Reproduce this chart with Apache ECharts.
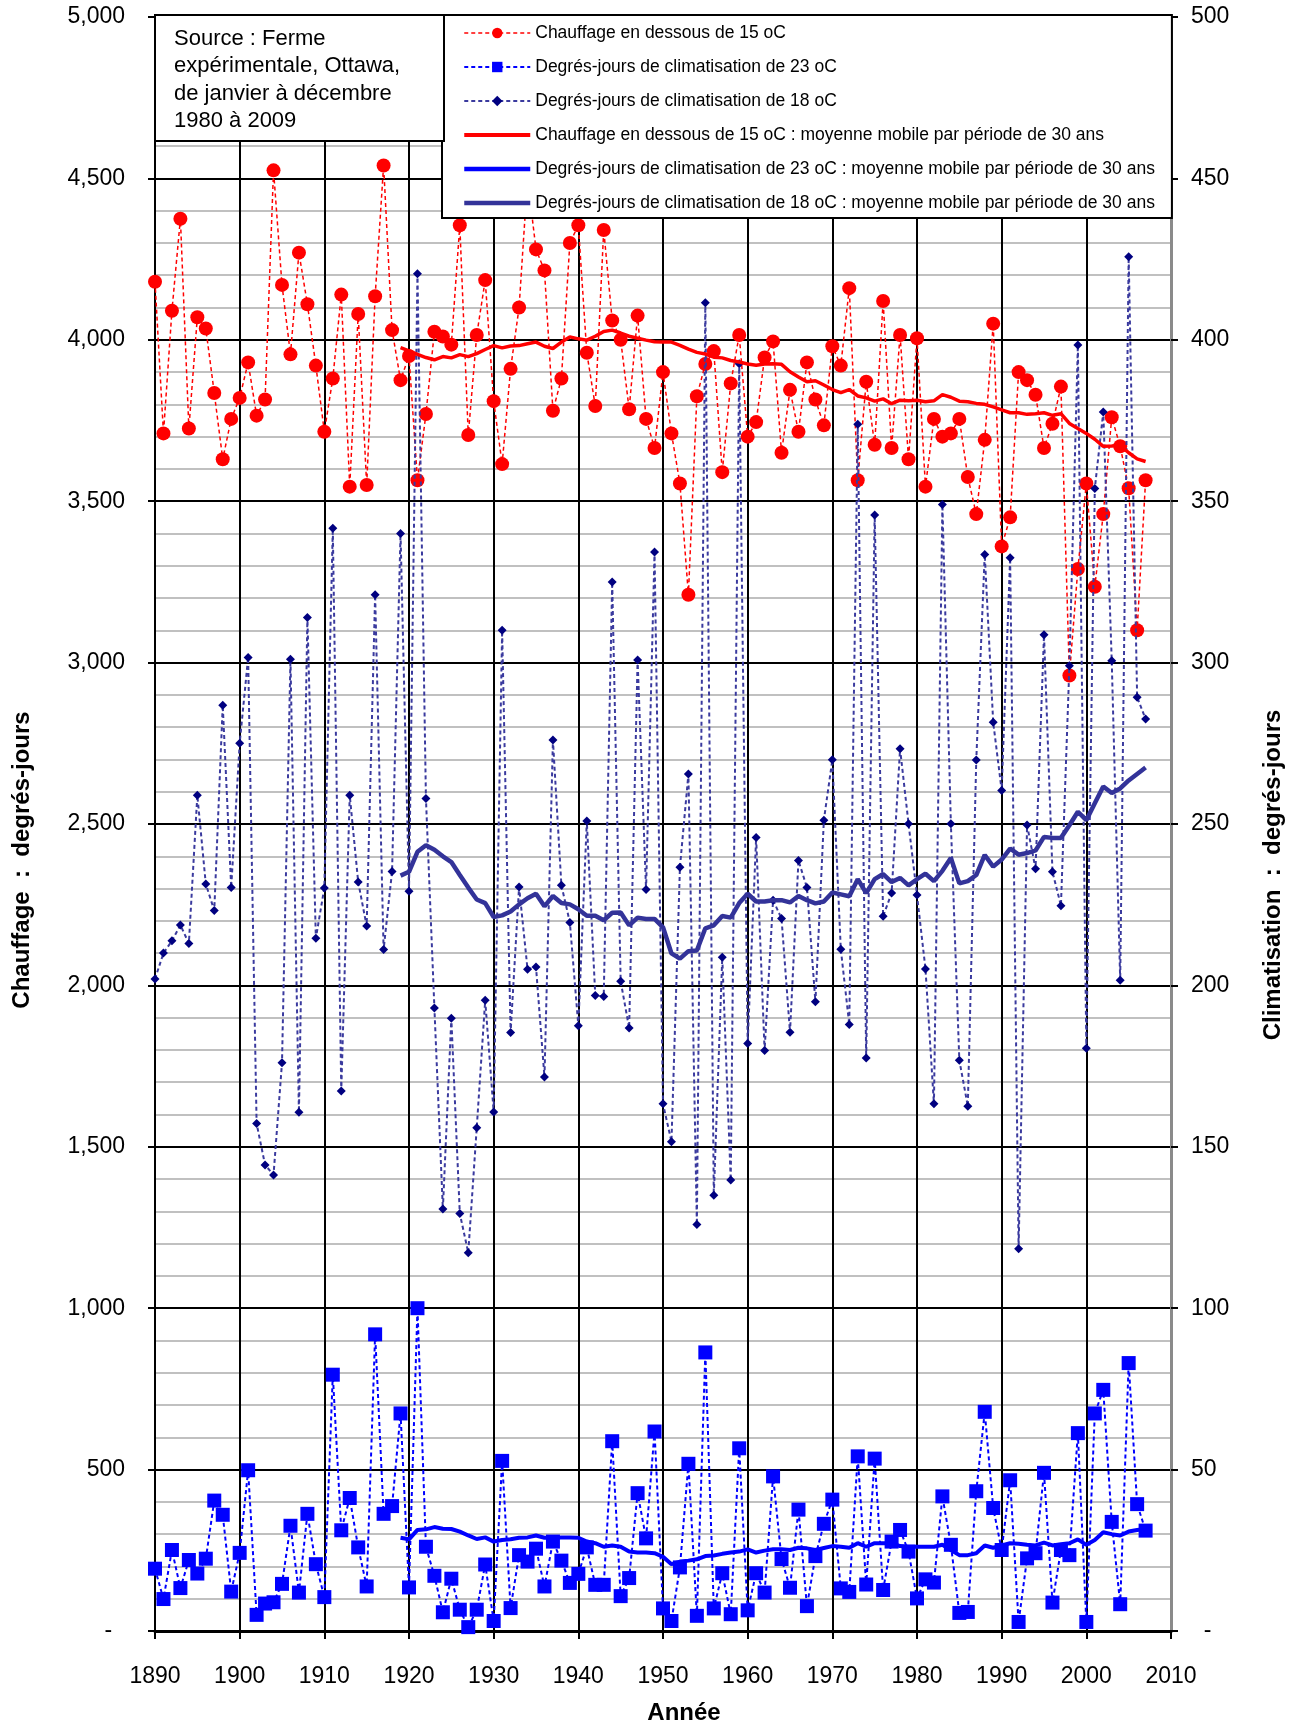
<!DOCTYPE html>
<html lang="fr">
<head>
<meta charset="utf-8">
<title>Degrés-jours de chauffage et de climatisation – Ottawa</title>
<script src="https://cdn.jsdelivr.net/npm/echarts@6/dist/echarts.min.js"></script>
<style>
  html, body { margin: 0; padding: 0; background: #ffffff; }
  #chart { width: 1296px; height: 1725px; }
</style>
</head>
<body>
<div id="chart"></div>
<script>
// Années des observations annuelles (1890 à 2007)
const firstYear = 1890;
const years = Array.from({ length: 118 }, (_, i) => firstYear + i);
// Années couvertes par les moyennes mobiles sur 30 ans (1919 à 2007)
const maYears = years.slice(29);

// Chauffage en dessous de 15 oC (degrés-jours, axe de gauche)
const heating15 = [
  4180, 3710, 4090, 4375, 3725, 4070, 4035, 3835, 3630, 3755,
  3820, 3930, 3765, 3815, 4525, 4170, 3955, 4270, 4110, 3920,
  3715, 3880, 4140, 3545, 4080, 3550, 4135, 4540, 4030, 3875,
  3950, 3565, 3770, 4025, 4010, 3985, 4355, 3705, 4015, 4185,
  3810, 3615, 3910, 4100, 4500, 4280, 4215, 3780, 3880, 4300,
  4355, 3960, 3795, 4340, 4060, 4000, 3785, 4075, 3755, 3665,
  3900, 3710, 3555, 3210, 3825, 3925, 3965, 3590, 3865, 4015,
  3700, 3745, 3945, 3995, 3650, 3845, 3715, 3930, 3815, 3735,
  3980, 3920, 4160, 3565, 3870, 3675, 4120, 3665, 4015, 3630,
  4005, 3545, 3755, 3700, 3710, 3755, 3575, 3460, 3690, 4050,
  3360, 3450, 3900, 3875, 3830, 3665, 3740, 3855, 2960, 3290,
  3555, 3235, 3460, 3760, 3670, 3540, 3100, 3565
];

// Degrés-jours de climatisation de 23 oC (axe de droite)
const cooling23 = [
  19.3, 9.9, 25.1, 13.3, 22.0, 17.8, 22.4, 40.4, 36.0, 12.2,
  24.2, 49.8, 5.0, 8.5, 8.9, 14.6, 32.6, 11.9, 36.3, 20.7,
  10.5, 79.4, 31.2, 41.2, 25.9, 13.8, 91.9, 36.3, 38.7, 67.4,
  13.5, 100.0, 26.1, 17.1, 5.8, 16.2, 6.6, 1.2, 6.6, 20.6,
  3.1, 52.7, 7.1, 23.5, 21.5, 25.5, 13.8, 27.7, 21.8, 14.9,
  17.7, 25.9, 14.3, 14.3, 58.8, 10.8, 16.4, 42.7, 28.7, 61.8,
  7.0, 3.1, 19.7, 51.8, 4.7, 86.3, 7.0, 17.9, 5.2, 56.6,
  6.4, 17.9, 11.9, 47.9, 22.3, 13.4, 37.6, 7.7, 23.2, 33.2,
  40.7, 13.2, 12.1, 54.1, 14.4, 53.4, 12.7, 27.7, 31.3, 24.6,
  10.1, 16.0, 15.0, 41.7, 26.7, 5.6, 5.9, 43.3, 67.9, 38.1,
  25.1, 46.7, 2.8, 22.5, 24.1, 49.0, 8.8, 25.1, 23.5, 61.3,
  2.8, 67.4, 74.7, 33.8, 8.3, 83.0, 39.3, 31.1
];

// Degrés-jours de climatisation de 18 oC (axe de droite)
const cooling18 = [
  202.0, 210.0, 213.8, 218.7, 213.0, 258.9, 231.4, 223.2, 286.8, 230.3,
  275.0, 301.6, 157.2, 144.4, 141.3, 176.0, 301.0, 160.7, 314.0, 214.6,
  230.2, 341.6, 167.3, 258.9, 232.0, 218.4, 321.0, 211.1, 235.3, 340.0,
  229.2, 420.5, 257.9, 193.0, 130.7, 189.8, 129.3, 117.2, 155.9, 195.4,
  160.8, 310.0, 185.4, 230.5, 205.0, 205.7, 171.6, 276.0, 231.0, 219.5,
  187.5, 250.9, 196.9, 196.6, 325.0, 201.3, 186.8, 300.8, 229.7, 334.3,
  163.3, 151.6, 236.6, 265.5, 125.9, 411.5, 135.0, 208.7, 139.7, 392.6,
  182.0, 245.8, 179.8, 226.4, 220.7, 185.5, 238.7, 230.3, 194.9, 251.2,
  269.9, 211.2, 187.9, 373.8, 177.5, 345.7, 221.4, 228.6, 273.3, 250.1,
  228.0, 205.1, 163.3, 349.0, 250.1, 176.8, 162.6, 269.8, 333.5, 281.5,
  260.4, 332.5, 118.4, 249.7, 236.1, 308.6, 235.2, 224.7, 299.0, 398.4,
  180.5, 353.9, 377.6, 300.6, 201.6, 425.7, 289.3, 282.5
];

// Moyennes mobiles sur 30 ans, 1919 à 2007
const heating15MA = [
  3976, 3966, 3955, 3945, 3938, 3948, 3944, 3954, 3948, 3957,
  3970, 3982, 3975, 3981, 3982, 3988, 3993, 3980, 3973, 3993,
  4009, 4003, 3999, 4011, 4026, 4030, 4021, 4011, 4005, 3999,
  3994, 3993, 3993, 3983, 3971, 3961, 3956, 3946, 3944, 3936,
  3931, 3925, 3921, 3925, 3926, 3924, 3901, 3885, 3870, 3873,
  3860, 3846, 3836, 3846, 3826, 3820, 3810, 3817, 3802, 3813,
  3811, 3813, 3808, 3811, 3830, 3822, 3810, 3808, 3803, 3800,
  3792, 3783, 3774, 3774, 3769, 3771, 3774, 3766, 3771, 3741,
  3725, 3710, 3692, 3670, 3671, 3673, 3650, 3631, 3623
];

const cooling23MA = [
  28.9, 28.4, 31.3, 31.5, 32.2, 31.7, 31.6, 30.8, 29.6, 28.5,
  29.0, 27.7, 28.2, 28.4, 28.9, 29.0, 29.6, 28.9, 28.9, 29.0,
  29.0, 28.9, 27.7, 27.2, 26.1, 26.5, 26.1, 24.6, 24.3, 24.3,
  24.1, 23.0, 20.7, 21.5, 21.8, 22.2, 23.2, 23.4, 23.9, 24.3,
  24.6, 25.3, 24.3, 24.9, 25.3, 25.3, 25.1, 25.8, 25.6, 25.1,
  25.7, 26.3, 26.1, 25.8, 27.2, 26.1, 27.2, 27.2, 27.2, 26.3,
  26.1, 26.1, 26.1, 26.1, 26.7, 25.1, 23.5, 23.5, 24.1, 26.5,
  25.8, 26.5, 27.2, 27.0, 26.7, 26.5, 27.4, 26.5, 26.9, 27.2,
  28.4, 26.7, 28.2, 30.6, 30.0, 29.6, 30.8, 31.3, 31.6
];

const cooling18MA = [
  234.0, 235.2, 241.4, 243.4, 242.0, 240.0, 238.2, 234.2, 230.3, 226.6,
  225.5, 221.2, 221.7, 222.9, 225.1, 227.0, 228.4, 224.5, 227.7, 225.5,
  225.1, 223.6, 221.6, 221.6, 220.2, 222.5, 222.6, 218.6, 221.0, 220.6,
  220.6, 218.0, 209.9, 208.3, 210.6, 210.8, 217.7, 218.6, 221.5, 221.0,
  225.5, 228.4, 226.0, 226.0, 226.4, 226.4, 225.7, 227.7, 226.4, 225.4,
  226.0, 228.8, 228.2, 227.6, 232.9, 228.6, 232.9, 234.5, 232.0, 233.3,
  231.0, 232.9, 234.6, 232.3, 235.5, 239.5, 231.6, 232.3, 234.2, 240.4,
  236.8, 239.0, 242.4, 240.5, 241.0, 241.8, 246.0, 245.7, 245.7, 249.6,
  253.8, 251.2, 256.4, 261.6, 259.6, 261.0, 263.5, 265.5, 267.5
];

// Graduations des axes
const yearTicks = { min: 1890, max: 2010, step: 10 };
const heatTicks = { min: 0, max: 5000, step: 500 };
const coolTicks = { min: 0, max: 500, step: 50 };

const FONT = '"Liberation Sans", Arial, sans-serif';

const NAMES = {
  heat: 'Chauffage en dessous de 15 oC',
  cool23: 'Degrés-jours de climatisation de 23 oC',
  cool18: 'Degrés-jours de climatisation de 18 oC',
  heatMA: 'Chauffage en dessous de 15 oC : moyenne mobile par période de 30 ans',
  cool23MA: 'Degrés-jours de climatisation de 23 oC : moyenne mobile par période de 30 ans',
  cool18MA: 'Degrés-jours de climatisation de 18 oC : moyenne mobile par période de 30 ans'
};

function pairs(xs, ys) {
  return xs.map((x, i) => [x, ys[i]]);
}

const chart = echarts.init(document.getElementById('chart'), null, { renderer: 'canvas' });

const option = {
  backgroundColor: '#ffffff',
  animation: false,
  textStyle: { fontFamily: FONT, color: '#000' },
  grid: { left: 155, right: 125, top: 17, bottom: 94, containLabel: false },
  xAxis: {
    type: 'value',
    min: yearTicks.min,
    max: yearTicks.max,
    interval: yearTicks.step,
    axisLine: { show: true, onZero: false, lineStyle: { color: '#000', width: 3 } },
    axisTick: { show: true, inside: false, length: 8, lineStyle: { color: '#000', width: 2 } },
    axisLabel: {
      fontSize: 23, color: '#000', fontFamily: FONT, margin: 34,
      formatter: v => String(v)
    },
    splitLine: { show: true, lineStyle: { color: '#000', width: 2 } }
  },
  yAxis: [
    {
      type: 'value',
      position: 'left',
      min: heatTicks.min,
      max: heatTicks.max,
      interval: heatTicks.step,
      axisLine: { show: true, lineStyle: { color: '#000', width: 2 } },
      axisTick: { show: true, inside: false, length: 7, lineStyle: { color: '#000', width: 2 } },
      axisLabel: {
        fontSize: 23, color: '#000', fontFamily: FONT, margin: 30,
        formatter: v => v === 0 ? '-  ' : v.toLocaleString('en-US')
      },
      splitLine: { show: true, lineStyle: { color: '#000', width: 2 } },
      minorTick: { show: false, splitNumber: 5 },
      minorSplitLine: { show: true, lineStyle: { color: '#c0c0c0', width: 2 } }
    },
    {
      type: 'value',
      position: 'right',
      min: coolTicks.min,
      max: coolTicks.max,
      interval: coolTicks.step,
      axisLine: { show: true, lineStyle: { color: '#8a8a8a', width: 3 } },
      axisTick: { show: true, inside: false, length: 7, lineStyle: { color: '#000', width: 2 } },
      axisLabel: {
        fontSize: 23, color: '#000', fontFamily: FONT, margin: 20,
        formatter: v => v === 0 ? '  -' : String(v)
      },
      splitLine: { show: false }
    }
  ],
  legend: {
    orient: 'vertical',
    left: 442,
    top: 15,
    padding: [8, 17, 5, 20],
    itemGap: 14,
    itemWidth: 66,
    itemHeight: 13,
    backgroundColor: '#ffffff',
    borderColor: '#000',
    borderWidth: 2,
    borderRadius: 0,
    textStyle: { fontSize: 17.5, lineHeight: 20, color: '#000', fontFamily: FONT },
    data: [
      { name: NAMES.heat, lineStyle: { width: 1.5 } },
      { name: NAMES.cool23, lineStyle: { width: 2 } },
      { name: NAMES.cool18, lineStyle: { width: 2 } },
      { name: NAMES.heatMA, lineStyle: { width: 4 } },
      { name: NAMES.cool23MA, lineStyle: { width: 4.5 } },
      { name: NAMES.cool18MA, lineStyle: { width: 4.5 } }
    ],
    z: 20
  },
  series: [
    {
      name: NAMES.heat,
      type: 'line',
      yAxisIndex: 0,
      data: pairs(years, heating15),
      symbol: 'circle',
      symbolSize: 14,
      itemStyle: { color: '#ff0000' },
      lineStyle: { color: '#ff0000', width: 1.5, type: [4, 3] },
      z: 3
    },
    {
      name: NAMES.cool23,
      type: 'line',
      yAxisIndex: 1,
      data: pairs(years, cooling23),
      symbol: 'rect',
      symbolSize: 14,
      itemStyle: { color: '#0000ff' },
      lineStyle: { color: '#0000ff', width: 2, type: [4, 3] },
      z: 4
    },
    {
      name: NAMES.cool18,
      type: 'line',
      yAxisIndex: 1,
      data: pairs(years, cooling18),
      symbol: 'diamond',
      symbolSize: 9,
      itemStyle: { color: '#000080' },
      lineStyle: { color: '#3a3a9e', width: 2, type: [4, 3] },
      z: 5
    },
    {
      name: NAMES.heatMA,
      type: 'line',
      yAxisIndex: 0,
      data: pairs(maYears, heating15MA),
      symbol: 'none',
      itemStyle: { color: '#ff0000', opacity: 0 },
      lineStyle: { color: '#ff0000', width: 3.5, opacity: 1 },
      z: 6
    },
    {
      name: NAMES.cool23MA,
      type: 'line',
      yAxisIndex: 1,
      data: pairs(maYears, cooling23MA),
      symbol: 'none',
      itemStyle: { color: '#0000ff', opacity: 0 },
      lineStyle: { color: '#0000ff', width: 4, opacity: 1 },
      z: 6
    },
    {
      name: NAMES.cool18MA,
      type: 'line',
      yAxisIndex: 1,
      data: pairs(maYears, cooling18MA),
      symbol: 'none',
      itemStyle: { color: '#333399', opacity: 0 },
      lineStyle: { color: '#333399', width: 4.5, opacity: 1 },
      z: 6
    }
  ],
  graphic: [
    {
      type: 'rect',
      z: 100,
      shape: { x: 155, y: 15, width: 289, height: 126 },
      style: { fill: '#ffffff', stroke: '#000', lineWidth: 2 }
    },
    {
      type: 'text',
      z: 101,
      x: 174,
      y: 25,
      style: {
        text: 'Source : Ferme\nexpérimentale, Ottawa,\nde janvier à décembre\n1980 à 2009',
        fontSize: 22,
        lineHeight: 27.5,
        fontFamily: FONT,
        fill: '#000',
        align: 'left',
        verticalAlign: 'top'
      }
    },
    {
      type: 'text',
      x: 22,
      y: 860,
      rotation: Math.PI / 2,
      z: 100,
      style: {
        text: 'Chauffage  :  degrés-jours',
        fontSize: 24,
        fontWeight: 'bold',
        fontFamily: FONT,
        fill: '#000',
        align: 'center',
        verticalAlign: 'middle'
      }
    },
    {
      type: 'text',
      x: 1273,
      y: 875,
      rotation: Math.PI / 2,
      z: 100,
      style: {
        text: 'Climatisation  :  degrés-jours',
        fontSize: 24,
        fontWeight: 'bold',
        fontFamily: FONT,
        fill: '#000',
        align: 'center',
        verticalAlign: 'middle'
      }
    },
    {
      type: 'text',
      x: 684,
      y: 1713,
      z: 100,
      style: {
        text: 'Année',
        fontSize: 24,
        fontWeight: 'bold',
        fontFamily: FONT,
        fill: '#000',
        align: 'center',
        verticalAlign: 'middle'
      }
    }
  ]
};

chart.setOption(option);
</script>
</body>
</html>
